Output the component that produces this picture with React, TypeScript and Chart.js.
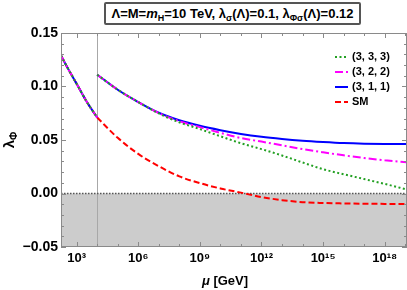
import React, { useEffect, useRef } from "react";
import { Chart, registerables } from "chart.js";

Chart.register(...registerables);

// ---- data ----
// low-scale running (all models identical up to Λ = 10 TeV)
const MU_LOW = [173, 316, 1e3, 3.16e3, 1e4];
const LAMBDA_LOW = [0.129, 0.1195, 0.1025, 0.0855, 0.071];

// running above Λ
const MU_HIGH = [1e4, 1e5, 1e6, 1e7, 1e8, 1e9, 1e10, 1e11, 1e12, 1e13, 1e14, 1e15, 1e16, 1e17, 1e18, 1.22e19];
const L_333 = [0.111, 0.097, 0.0855, 0.0748, 0.0665, 0.0602, 0.0535, 0.047, 0.0415, 0.0355, 0.029, 0.0227, 0.018, 0.0135, 0.009, 0.0037];
const L_322 = [0.111, 0.097, 0.0855, 0.0752, 0.0675, 0.062, 0.0567, 0.0518, 0.0485, 0.045, 0.0415, 0.0385, 0.0357, 0.0332, 0.031, 0.0292];
const L_311 = [0.111, 0.097, 0.0855, 0.0755, 0.0685, 0.0633, 0.0592, 0.0557, 0.053, 0.051, 0.0494, 0.0482, 0.0472, 0.0466, 0.0463, 0.0462];
const L_SM = [0.071, 0.052, 0.037, 0.0255, 0.016, 0.0097, 0.0047, 0.0008, -0.0033, -0.0062, -0.0081, -0.0089, -0.0093, -0.0096, -0.0097, -0.0097];

const SERIES_LABELS = ["(3, 3, 3)", "(3, 2, 2)", "(3, 1, 1)", "SM"];
const SERIES_COLORS = ["#22a022", "#ff00ff", "#0000ff", "#ff0000"];
const SERIES_DASH = [[2, 2.5], [8, 3, 2, 3], [], [6, 3]];

const X_TICKS = [1e3, 1e6, 1e9, 1e12, 1e15, 1e18];
const X_TICK_LABELS = ["10³", "10⁶", "10⁹", "10¹²", "10¹⁵", "10¹⁸"];
const Y_MIN = -0.05;
const Y_MAX = 0.15;
const LAMBDA_SCALE = 1e4;

const FONT = '"Liberation Sans", Arial, Helvetica, sans-serif';

function buildPoints(highVals: number[], withLow: boolean) {
  const pts: { x: number; y: number | null }[] = [];
  if (withLow) {
    MU_LOW.forEach((m, i) => pts.push({ x: m, y: LAMBDA_LOW[i] }));
    pts.push({ x: LAMBDA_SCALE, y: null });
  }
  MU_HIGH.forEach((m, i) => pts.push({ x: m, y: highVals[i] }));
  return pts;
}

const decorPlugin = {
  id: "decor",
  beforeDatasetsDraw(chart: any) {
    const { ctx, chartArea, scales } = chart;
    const { left, right, top, bottom } = chartArea;
    const x = scales.x;
    const y = scales.y;
    const y0 = y.getPixelForValue(0);
    ctx.save();
    ctx.fillStyle = "#cccccc";
    ctx.fillRect(left, y0, right - left, bottom - y0);
    // vertical line at Λ
    const xv = Math.round(x.getPixelForValue(LAMBDA_SCALE)) + 0.5;
    ctx.strokeStyle = "#a8a8a8";
    ctx.lineWidth = 1;
    ctx.beginPath();
    ctx.moveTo(xv, top);
    ctx.lineTo(xv, bottom);
    ctx.stroke();
    // dotted zero line
    ctx.strokeStyle = "#555555";
    ctx.lineWidth = 1.5;
    ctx.setLineDash([1.5, 1.5]);
    ctx.beginPath();
    ctx.moveTo(left, y0);
    ctx.lineTo(right, y0);
    ctx.stroke();
    ctx.restore();
  },
  afterDatasetsDraw(chart: any) {
    const { ctx, chartArea, scales } = chart;
    const { left, right, top, bottom } = chartArea;
    const x = scales.x;
    const y = scales.y;
    ctx.save();
    // frame
    ctx.strokeStyle = "#8a8a8a";
    ctx.lineWidth = 1;
    ctx.strokeRect(left + 0.5, top + 0.5, right - left - 1, bottom - top - 1);
    // x ticks (one per decade)
    ctx.beginPath();
    for (let k = 3; k <= 19; k++) {
      const px = Math.round(x.getPixelForValue(Math.pow(10, k))) + 0.5;
      const len = k % 3 === 0 ? 5 : 3;
      ctx.moveTo(px, bottom);
      ctx.lineTo(px, bottom - len);
      ctx.moveTo(px, top);
      ctx.lineTo(px, top + len);
    }
    // y ticks
    for (let i = -5; i <= 15; i++) {
      const py = Math.round(y.getPixelForValue(i / 100)) + 0.5;
      const len = i % 5 === 0 ? 5 : 3;
      ctx.moveTo(left, py);
      ctx.lineTo(left + len, py);
      ctx.moveTo(right, py);
      ctx.lineTo(right - len, py);
    }
    ctx.stroke();

    // legend
    const lx = right - 72;
    const ly = top + 24;
    ctx.font = `bold 11px ${FONT}`;
    ctx.textBaseline = "middle";
    ctx.textAlign = "left";
    chart.data.datasets.forEach((ds: any, i: number) => {
      const yy = ly + i * 15;
      ctx.strokeStyle = ds.borderColor;
      ctx.lineWidth = 2;
      ctx.setLineDash(ds.borderDash || []);
      ctx.beginPath();
      ctx.moveTo(lx, yy);
      ctx.lineTo(lx + 13, yy);
      ctx.stroke();
      ctx.setLineDash([]);
      ctx.fillStyle = "#000";
      ctx.fillText(ds.label, lx + 17, yy);
    });
    ctx.restore();
  },
};

export default function App() {
  const canvasRef = useRef<HTMLCanvasElement | null>(null);

  useEffect(() => {
    document.body.style.margin = "0";
    const canvas = canvasRef.current;
    if (!canvas) return;
    const highs = [L_333, L_322, L_311, L_SM];
    const datasets = highs.map((vals, i) => ({
      label: SERIES_LABELS[i],
      data: buildPoints(vals, true),
      borderColor: SERIES_COLORS[i],
      backgroundColor: SERIES_COLORS[i],
      borderDash: SERIES_DASH[i],
      borderWidth: 2,
      pointRadius: 0,
      tension: 0.4,
      cubicInterpolationMode: "monotone" as const,
      spanGaps: false,
      fill: false,
    }));
    const chart = new Chart(canvas, {
      type: "line",
      data: { datasets },
      options: {
        responsive: false,
        animation: false,
        devicePixelRatio: 1,
        layout: { padding: { top: 33, right: 0, left: 0, bottom: 0 } },
        plugins: {
          legend: { display: false },
          tooltip: { enabled: false },
          title: { display: false },
        },
        scales: {
          x: {
            type: "logarithmic",
            min: 173,
            max: 1.22e19,
            grid: { display: false, drawTicks: false },
            border: { display: false },
            afterBuildTicks: (scale: any) => {
              scale.ticks = X_TICKS.map((v) => ({ value: v }));
            },
            afterFit: (scale: any) => {
              scale.height = 43;
            },
            ticks: {
              autoSkip: false,
              maxRotation: 0,
              padding: 4,
              color: "#000",
              font: { family: FONT, size: 13, weight: "bold" },
              callback: (v: any) => {
                const idx = X_TICKS.indexOf(Number(v));
                return idx >= 0 ? X_TICK_LABELS[idx] : "";
              },
            },
          },
          y: {
            type: "linear",
            min: Y_MIN,
            max: Y_MAX,
            grid: { display: false, drawTicks: false },
            border: { display: false },
            afterFit: (scale: any) => {
              scale.width = 61;
            },
            ticks: {
              stepSize: 0.05,
              padding: 3,
              color: "#000",
              font: { family: FONT, size: 14, weight: "bold" },
              callback: (v: any) => Number(v).toFixed(2).replace("-", "−"),
            },
          },
        },
      },
      plugins: [decorPlugin],
    });
    return () => chart.destroy();
  }, []);

  const sub = { fontSize: 9, verticalAlign: "-3px", lineHeight: 0 } as const;

  return (
    <div style={{ position: "relative", width: 407, height: 290, fontFamily: FONT, overflow: "hidden" }}>
      <canvas ref={canvasRef} width={407} height={290} style={{ position: "absolute", left: 0, top: 0 }} />
      <div
        style={{
          position: "absolute",
          left: 104,
          top: 2,
          width: 253,
          height: 19,
          border: "2px solid #555",
          borderRadius: 2,
          display: "flex",
          alignItems: "center",
          justifyContent: "center",
          fontWeight: "bold",
          fontSize: 13,
          whiteSpace: "nowrap",
          background: "#fff",
        }}
      >
        <span>
          Λ=M=<i>m</i>
          <sub style={sub}>H</sub>=10 TeV, λ<sub style={sub}>σ</sub>(Λ)=0.1, λ<sub style={sub}>Φσ</sub>(Λ)=0.12
        </span>
      </div>
      <div
        style={{
          position: "absolute",
          left: 195,
          top: 273,
          width: 60,
          textAlign: "center",
          fontWeight: "bold",
          fontSize: 13,
          whiteSpace: "nowrap",
        }}
      >
        <i>μ</i> [GeV]
      </div>
      <div
        style={{
          position: "absolute",
          left: -11,
          top: 131,
          width: 40,
          height: 18,
          textAlign: "center",
          fontWeight: "bold",
          fontSize: 15,
          transform: "rotate(-90deg)",
          whiteSpace: "nowrap",
          lineHeight: "18px",
        }}
      >
        λ<sub style={{ fontSize: 10, verticalAlign: "-3px", lineHeight: 0 }}>Φ</sub>
      </div>
    </div>
  );
}
